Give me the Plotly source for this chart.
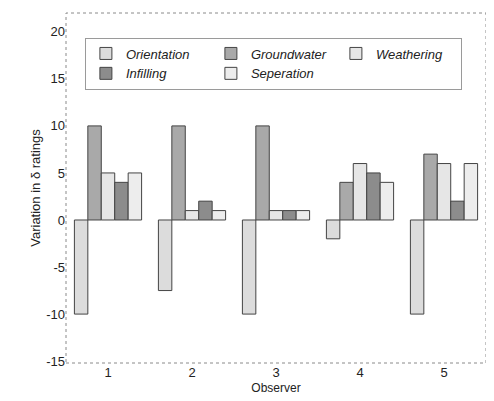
import plotly.graph_objects as go

observers = [1, 2, 3, 4, 5]
series_names = ["Orientation", "Groundwater", "Weathering", "Infilling", "Seperation"]
orientation = [-10, -7.5, -10, -2, -10]
groundwater = [10, 10, 10, 4, 7]
weathering = [5, 1, 1, 6, 6]
infilling = [4, 2, 1, 5, 2]
seperation = [5, 1, 1, 4, 6]
y_ticks = [20, 15, 10, 5, 0, -5, -10, -15]

values = [orientation, groundwater, weathering, infilling, seperation]
fills = ["#dcdcdc", "#a9a9a9", "#e6e6e6", "#8c8c8c", "#ededed"]

fig = go.Figure()
for name, vals, col in zip(series_names, values, fills):
    fig.add_trace(go.Bar(
        x=observers, y=vals, name=name,
        marker=dict(color=col, line=dict(color="#444444", width=1)),
    ))

fig.update_layout(
    width=494, height=401,
    margin=dict(l=58, r=16, t=5, b=46),
    paper_bgcolor="white", plot_bgcolor="white",
    barmode="group", bargap=0.2, bargroupgap=0,
    font=dict(family="Liberation Sans, Arial, sans-serif", color="#222222", size=13),
    showlegend=True,
    legend=dict(
        orientation="h", x=0.045, y=0.93, xanchor="left", yanchor="top",
        entrywidth=80, entrywidthmode="pixels", itemwidth=30,
        font=dict(size=13, style="italic", color="#222222"),
        bordercolor="#9a9a9a", borderwidth=1, bgcolor="rgba(255,255,255,0)",
        traceorder="normal", tracegroupgap=0,
    ),
    xaxis=dict(
        range=[0.5, 5.5], tickvals=observers, ticktext=[str(o) for o in observers],
        showgrid=False, zeroline=False, showline=False, ticks="",
        title=dict(text="Observer", font=dict(size=12), standoff=4),
        tickfont=dict(size=13),
    ),
    yaxis=dict(
        range=[-15.2, 22], tickvals=y_ticks, ticktext=[str(t) for t in y_ticks],
        showgrid=False, zeroline=False, showline=False, ticks="",
        title=dict(text="Variation in δ ratings", font=dict(size=13), standoff=2),
        tickfont=dict(size=13),
    ),
    shapes=[dict(type="rect", xref="paper", yref="paper", x0=0, x1=1, y0=0, y1=1,
                 line=dict(color="#8a8a8a", width=1, dash="dot"), layer="below")],
)

fig.write_html("out.html")
